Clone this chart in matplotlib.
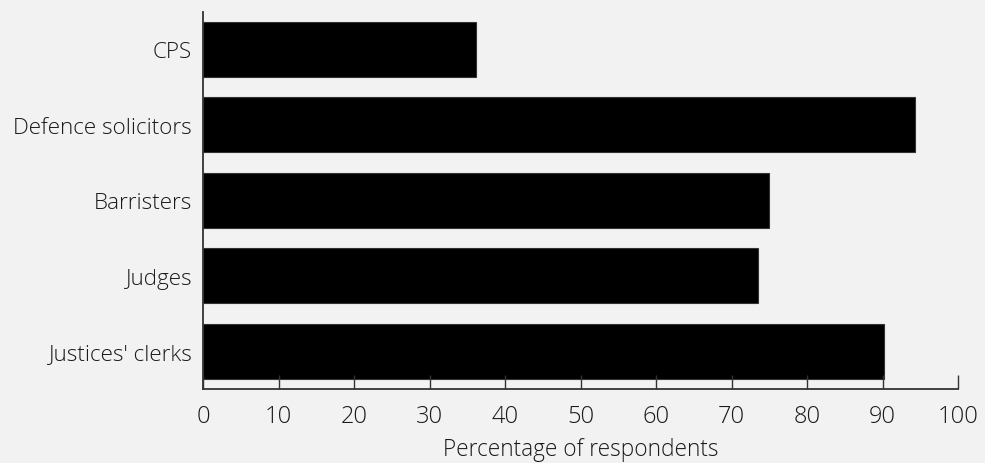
import matplotlib
matplotlib.use("Agg")
from matplotlib import pyplot as plt

categories = ["CPS", "Defence solicitors", "Barristers", "Judges", "Justices' clerks"]
values = [36.2, 94.3, 75.0, 73.5, 90.2]
xticks = [0, 10, 20, 30, 40, 50, 60, 70, 80, 90, 100]

plt.rcParams["font.family"] = ["Open Sans", "DejaVu Sans"]

bg = "#f2f2f2"
txt = "#1a1a1a"
fig = plt.figure(figsize=(9.85, 4.64), dpi=100, facecolor=bg)
ax = fig.add_axes([0.2061, 0.1595, 0.7665, 0.8131])
ax.set_facecolor(bg)

pos = list(range(len(categories)))[::-1]
ax.barh(pos, values, height=0.73, color="black", edgecolor="#333333", linewidth=0.8)

ax.set_xlim(0, 100)
ax.set_ylim(-0.5, 4.5)
ax.set_yticks(pos)
ax.set_yticklabels(categories, fontsize=16.2, color=txt, fontweight="light")
ax.set_xticks(xticks)
ax.set_xticklabels([str(t) for t in xticks], fontsize=17, color=txt, fontweight="light")
ax.tick_params(axis="y", length=0, pad=8)
ax.tick_params(axis="x", direction="in", length=10, width=1.0, color="#333333", pad=11)

ax.spines["top"].set_visible(False)
ax.spines["right"].set_visible(False)
for s in ["left", "bottom"]:
    ax.spines[s].set_color("#333333")
    ax.spines[s].set_linewidth(1.3)

ax.set_xlabel("Percentage of respondents", fontsize=16.3, color=txt, fontweight="light", labelpad=6)

fig.savefig("out.png", dpi=100, facecolor=bg)
